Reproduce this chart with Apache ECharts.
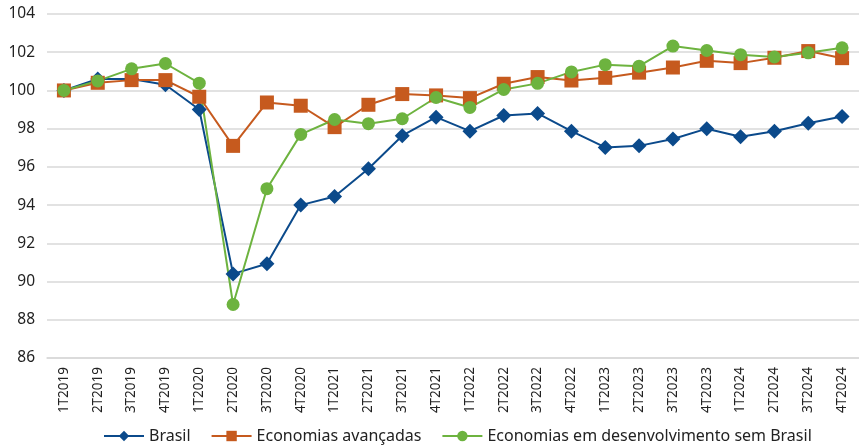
<!DOCTYPE html>
<html>
<head>
<meta charset="utf-8">
<script src="https://cdn.jsdelivr.net/npm/echarts@6/dist/echarts.min.js"></script>
<style>
  html, body { margin: 0; padding: 0; background: #fff; }
  #chart { width: 859px; height: 448px; }
</style>
</head>
<body>
<div id="chart"></div>
<script>
const quarters = ['1T2019', '2T2019', '3T2019', '4T2019', '1T2020', '2T2020', '3T2020', '4T2020',
  '1T2021', '2T2021', '3T2021', '4T2021', '1T2022', '2T2022', '3T2022', '4T2022',
  '1T2023', '2T2023', '3T2023', '4T2023', '1T2024', '2T2024', '3T2024', '4T2024'];

const brasil = [100, 100.6, 100.6, 100.3, 99.0, 90.4, 90.93, 94.0,
  94.45, 95.9, 97.63, 98.6, 97.87, 98.69, 98.8, 97.87,
  97.02, 97.1, 97.46, 98.0, 97.58, 97.87, 98.28, 98.64];

const avancadas = [100, 100.4, 100.54, 100.54, 99.67, 97.1, 99.37, 99.2,
  98.08, 99.25, 99.81, 99.74, 99.6, 100.35, 100.7, 100.52,
  100.66, 100.93, 101.2, 101.55, 101.43, 101.71, 102.06, 101.69];

const emDesenv = [100, 100.5, 101.13, 101.41, 100.38, 88.8, 94.86, 97.7,
  98.48, 98.26, 98.52, 99.63, 99.11, 100.05, 100.37, 100.97,
  101.35, 101.27, 102.32, 102.09, 101.87, 101.75, 101.97, 102.23];

const font = 'Noto Sans';

const chart = echarts.init(document.getElementById('chart'));

function serie(name, data, color, symbol, size) {
  return {
    name: name,
    type: 'line',
    data: data,
    symbol: symbol,
    symbolSize: size,
    showAllSymbol: true,
    itemStyle: { color: color },
    lineStyle: { color: color, width: 2 },
    emphasis: { disabled: true }
  };
}

chart.setOption({
  animation: false,
  textStyle: { fontFamily: font },
  grid: { left: 47, right: -4, top: 14, bottom: 90 },
  legend: {
    bottom: -1,
    left: 98,
    itemGap: 20,
    itemWidth: 40,
    itemHeight: 13,
    textStyle: { fontSize: 16, color: '#222', fontFamily: font },
    data: ['Brasil', 'Economias avançadas', 'Economias em desenvolvimento sem Brasil']
  },
  xAxis: {
    type: 'category',
    data: quarters,
    boundaryGap: true,
    axisLine: { show: true, lineStyle: { color: '#d9d9d9', width: 1.5 } },
    axisTick: { show: false },
    axisLabel: { rotate: 90, interval: 0, fontSize: 13.5, color: '#222', margin: 9 }
  },
  yAxis: {
    type: 'value',
    min: 86,
    max: 104,
    interval: 2,
    axisLine: { show: false },
    axisTick: { show: false },
    axisLabel: { fontSize: 15.5, color: '#222', margin: 12 },
    splitLine: { lineStyle: { color: '#d9d9d9', width: 1.5 } }
  },
  series: [
    serie('Brasil', brasil, '#0b4a8b', 'diamond', 15),
    serie('Economias avançadas', avancadas, '#c65a1e', 'rect', 14),
    serie('Economias em desenvolvimento sem Brasil', emDesenv, '#6db33f', 'circle', 13)
  ]
});
</script>
</body>
</html>
